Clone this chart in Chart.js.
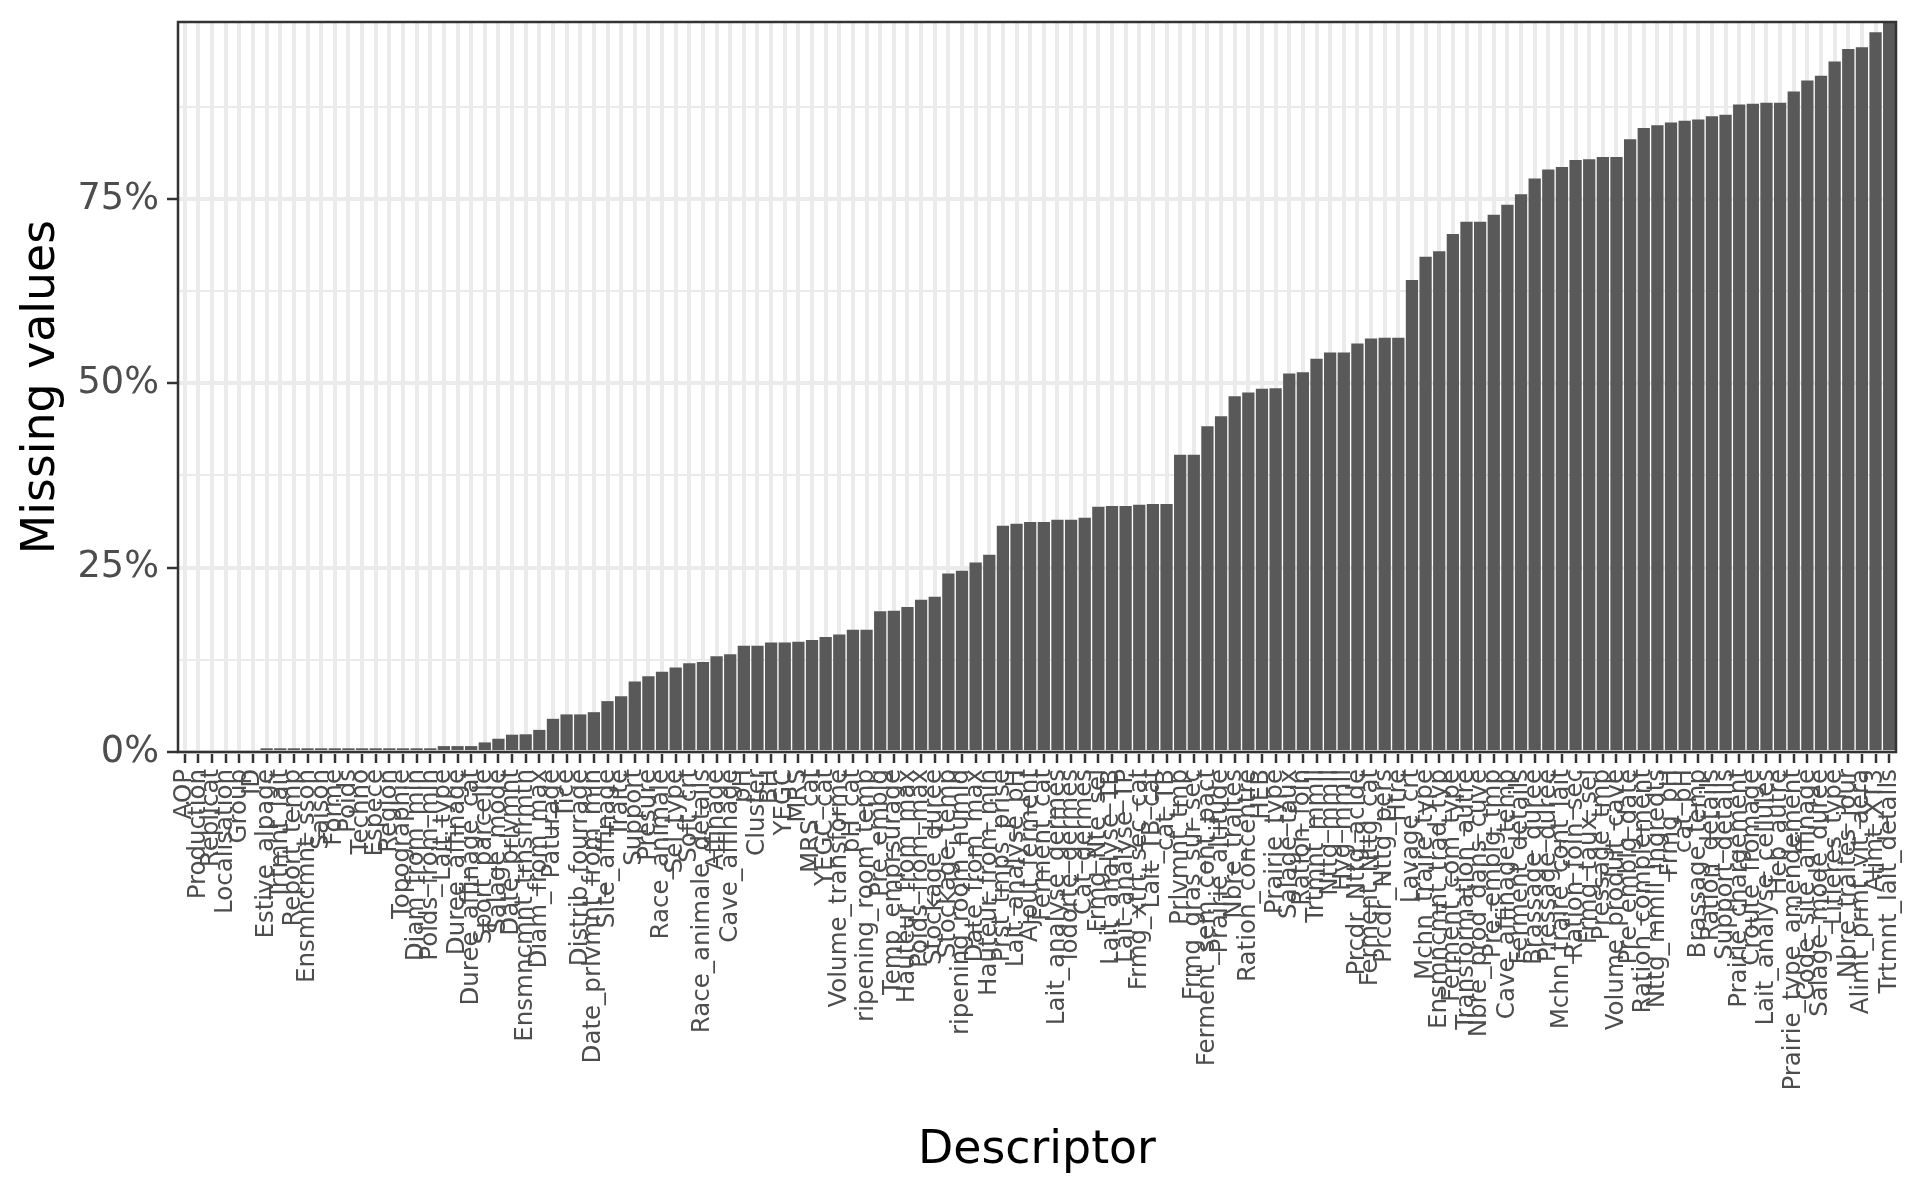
<!DOCTYPE html>
<html>
<head>
<meta charset="utf-8">
<title>Missing values per descriptor</title>
<script src="https://cdn.jsdelivr.net/npm/chart.js@4.4.1/dist/chart.umd.min.js"></script>
<style>
  html, body { margin: 0; padding: 0; background: #ffffff; }
  #myChart { display: block; }
</style>
</head>
<body>
<canvas id="myChart" width="1920" height="1200"></canvas>
<script>
// descriptors, sorted by share of missing values
var descriptors = [
    'AOP', 'Production', 'Replicat', 'Localisation', 'Group', 'ID', 'Estive_alpage', 'Trtmnt_lait',
    'Report_temp', 'Ensmncmnt_sson', 'Saison', 'Forme', 'Poids', 'Techno', 'Espece', 'Region',
    'Topographie', 'Diam_from_min', 'Poids_from_min', 'Lait_type', 'Duree_affinage', 'Duree_affinage_cat',
    'Sport_parcelle', 'Salage_mode', 'Date_prlvmnt', 'Ensmncmnt_trnsfrmtn', 'Diam_from_max', 'Paturage',
    'Tice', 'Distrib_fourrage', 'Date_prlvmnt_from_min', 'Site_affinage', 'Traite', 'Support', 'Presure',
    'Race_animale', 'Sel_type', 'Soft_crt', 'Race_animale_details', 'Affinage', 'Cave_affinage', 'pH',
    'Cluster', 'BH', 'YEGC', 'MRS', 'MRS_cat', 'YEGC_cat', 'Volume_transforme', 'pH_cat',
    'ripening_room_temp', 'Pre_emblg', 'Temp_emprsurage', 'Hauteur_from_max', 'Poids_from_max',
    'Stockage_duree', 'Stockage_temp', 'ripening_room_humid', 'Date_from_max', 'Hauteur_from_min',
    'Prst_tmps_prise', 'Lait_analyse_pH', 'Ajout_ferment', 'Ferment_cat', 'Lait_analyse_germes',
    'lodorte_germes', 'Cat_germes', 'Frmg_Nte_sel', 'Lait_analyse_TB', 'Lait_analyse_TP',
    'Frmg_xtrt_sec_cat', 'Lait_TB_cat', 'cat_TB', 'Prlvmnt_tmp', 'Frmg_gras_sur_sec',
    'Ferment_sem_cont_pact', 'Prairie_altitude', 'Nbre_traites', 'Ration_concentre', 'HEB',
    'Prairie_type', 'Salage_taux', 'Ration_foin', 'Trtmnt_mmll', 'Nttg_mmll', 'Hyg_mmll',
    'Prcdr_Nttg_acide', 'Ferment_Nttg_cat', 'Prcdr_Nttg_pers', 'Htre', 'Lavage_crt', 'Mchn_traire_type',
    'Ensmncmnt_trad_typ', 'Ferment_com_type', 'Transformation_autre', 'Nbre_prod_dans_cuve',
    'Pre_emblg_tmp', 'Cave_affinage_temp', 'Ferment_details', 'Brassage_duree', 'Pressage_duree',
    'Mchn_traire_cont_lait', 'Ration_foin_sec', 'Frmg_taux_sel', 'Pressage_tmp', 'Volume_produit_cave',
    'Pre_emblg_date', 'Ration_complement', 'Nttg_mmll_ingredts', 'Frmg_pH', 'cat_pH', 'Brassage_temp',
    'Ration_details', 'Support_details', 'Prairie_chargement', 'Croute_fromage', 'Lait_analyse_cellules',
    'Heb_autre', 'Prairie_type_amendement', 'Code_site_affinage', 'Salage_mode_duree', 'Litieres_type',
    'Nbre_traites_jour', 'Alimt_prmt_vit_aera', 'Alimt_XT3', 'Trtmnt_lait_details'
]

// share of missing values (%)
var missingPct = [
    0, 0, 0, 0, 0, 0, 0.5, 0.5,
    0.5, 0.5, 0.5, 0.5, 0.5, 0.5, 0.5, 0.5,
    0.5, 0.5, 0.5, 0.8, 0.8, 0.8,
    1.3, 1.8, 2.35, 2.4, 3.0, 4.5,
    5.1, 5.1, 5.4, 6.9, 7.56, 9.55, 10.28,
    10.9, 11.45, 12.04, 12.2, 13.0, 13.27, 14.4,
    14.4, 14.85, 14.85, 14.94, 15.2, 15.6, 15.93, 16.57,
    16.57, 19.1, 19.15, 19.65, 20.64,
    21.05, 24.2, 24.58, 25.7, 26.75,
    30.7, 30.96, 31.2, 31.2, 31.5,
    31.5, 31.78, 33.27, 33.36, 33.36,
    33.54, 33.63, 33.63, 40.3, 40.3,
    44.17, 45.53, 48.25, 48.75, 49.25,
    49.34, 51.33, 51.51, 53.32, 54.18, 54.18,
    55.4, 56.08, 56.17, 56.17, 64.0, 67.17,
    67.9, 70.25, 71.9, 71.9,
    72.87, 74.23, 75.64, 77.77, 79.0,
    79.35, 80.3, 80.39, 80.7, 80.7,
    83.1, 84.64, 85.0, 85.37, 85.6, 85.78,
    86.23, 86.42, 87.82, 87.9, 88.04,
    88.04, 89.58, 91.07, 91.7, 93.66,
    95.33, 95.56, 97.6, 99.0
]

var yMajorTicks = [0, 25, 50, 75]
var yMinorTicks = [12.5, 37.5, 62.5, 87.5]

var fontFamily = "'DejaVu Sans', 'Liberation Sans', sans-serif"

// full panel border like theme_bw
var panelBorder = {
    id: 'panelBorder',
    afterDraw: function (chart) {
        var a = chart.chartArea
        var ctx = chart.ctx
        ctx.save()
        ctx.strokeStyle = '#333333'
        ctx.lineWidth = 2.5
        ctx.strokeRect(a.left, a.top, a.right - a.left, a.bottom - a.top)
        ctx.restore()
    }
}

function isMinor(value) {
    return yMinorTicks.indexOf(value) !== -1
}

function createChart(field) {
    var chart = new Chart(field, {
        type: 'bar',
        data: {
            labels: descriptors,
            datasets: [{
                label: 'Missing values',
                backgroundColor: '#595959',
                borderWidth: 0,
                barPercentage: 0.9,
                categoryPercentage: 1.0,
                data: missingPct
            }]
        },
        options: {
            responsive: false,
            animation: false,
            devicePixelRatio: 1,
            layout: { padding: { top: 22, right: 24, left: 0, bottom: 0 } },
            plugins: {
                legend: { display: false },
                tooltip: { enabled: false }
            },
            scales: {
                x: {
                    offset: true,
                    border: { display: false },
                    grid: {
                        offset: false,
                        color: '#EBEBEB',
                        lineWidth: 4,
                        tickColor: '#333333',
                        tickWidth: 2.5,
                        tickLength: 11
                    },
                    ticks: {
                        autoSkip: false,
                        minRotation: 90,
                        maxRotation: 90,
                        padding: 6,
                        color: '#4D4D4D',
                        font: { family: fontFamily, size: 24.5 }
                    },
                    title: {
                        display: true,
                        text: 'Descriptor',
                        color: '#000000',
                        font: { family: fontFamily, size: 45.8 },
                        padding: { top: 0, bottom: 21 }
                    },
                    afterFit: function (scale) {
                        scale.height = 448
                        scale.paddingLeft = 0
                        scale.paddingRight = 0
                    }
                },
                y: {
                    min: 0,
                    max: 99.0,
                    border: { display: false },
                    grid: {
                        color: '#EBEBEB',
                        lineWidth: function (c) { return isMinor(c.tick.value) ? 2 : 4 },
                        tickColor: function (c) { return isMinor(c.tick.value) ? 'rgba(0,0,0,0)' : '#333333' },
                        tickWidth: 2.5,
                        tickLength: 11
                    },
                    afterBuildTicks: function (scale) {
                        scale.ticks = yMajorTicks.concat(yMinorTicks)
                            .sort(function (a, b) { return a - b })
                            .map(function (v) { return { value: v } })
                    },
                    ticks: {
                        autoSkip: false,
                        padding: 8,
                        color: '#4D4D4D',
                        font: { family: fontFamily, size: 36.7 },
                        callback: function (value) {
                            return isMinor(value) ? '' : value + '%'
                        }
                    },
                    title: {
                        display: true,
                        text: 'Missing values',
                        color: '#000000',
                        font: { family: fontFamily, size: 45.8 },
                        padding: { top: 15, bottom: 0 }
                    },
                    afterFit: function (scale) {
                        scale.width = 178
                        scale.paddingTop = 0
                        scale.paddingBottom = 0
                    }
                }
            }
        },
        plugins: [panelBorder]
    })
    return chart
}

createChart(document.getElementById('myChart').getContext('2d'))
</script>
</body>
</html>
